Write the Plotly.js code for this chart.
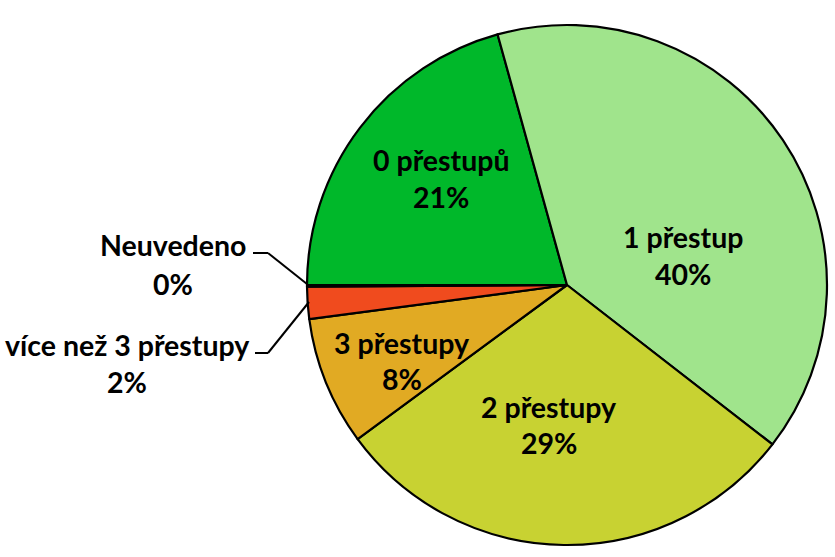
<!DOCTYPE html>
<html>
<head>
<meta charset="utf-8">
<script src="https://cdn.plot.ly/plotly-3.0.1.min.js"></script>
<style>html,body{margin:0;padding:0;background:#fff;}#chart{width:835px;height:557px;}</style>
</head>
<body>
<div id="chart"></div>
<script>
// Data (clockwise, starting at 9 o'clock)
const categories = ["0 přestupů", "1 přestup", "2 přestupy", "3 přestupy", "více než 3 přestupy", "Neuvedeno"];
const values = [20.7, 39.8, 29.4, 8.0, 2.0, 0.1];
const colors = ["#00B82A", "#A0E48C", "#C8D232", "#E1AA23", "#F04B1E", "#4F81BD"];

// Label placement (pixel centers of name line / percent line)
const labelPos = [
  {x: 441, y1: 160, y2: 197},
  {x: 683, y1: 237, y2: 274},
  {x: 549, y1: 407, y2: 443},
  {x: 402, y1: 343, y2: 379},
  {x: 127, y1: 345, y2: 382},
  {x: 173, y1: 245, y2: 284}
];

const W = 835, H = 557;
const total = values.reduce((a, b) => a + b, 0);
const pct = values.map(v => Math.round(v / total * 100) + '%');
const font = {family: 'Lato, "Open Sans", sans-serif', size: 28.5, color: '#000', weight: 'bold'};

const annotations = [];
categories.forEach((c, i) => {
  const p = labelPos[i];
  annotations.push({xref: 'paper', yref: 'paper', x: p.x / W, y: 1 - p.y1 / H, xanchor: 'center', yanchor: 'middle', text: c, showarrow: false, font: font});
  annotations.push({xref: 'paper', yref: 'paper', x: p.x / W, y: 1 - p.y2 / H, xanchor: 'center', yanchor: 'middle', text: pct[i], showarrow: false, font: font});
});

function seg(x0, y0, x1, y1) {
  return {type: 'line', xref: 'paper', yref: 'paper', x0: x0 / W, y0: 1 - y0 / H, x1: x1 / W, y1: 1 - y1 / H, line: {color: '#000', width: 2}};
}
const shapes = [
  seg(253, 253, 268, 253), seg(268, 253, 307, 284),
  seg(255, 353, 268, 353), seg(268, 353, 309, 302)
];

const trace = {
  type: 'pie',
  labels: categories,
  values: values,
  sort: false,
  direction: 'clockwise',
  rotation: -90,
  textinfo: 'none',
  hoverinfo: 'label+percent',
  marker: {colors: colors, line: {color: '#000', width: 2.2}},
  domain: {x: [307 / W, 827 / W], y: [12 / H, 532 / H]},
  showlegend: false
};

const layout = {
  width: W, height: H,
  margin: {l: 0, r: 0, t: 0, b: 0},
  paper_bgcolor: '#fff',
  showlegend: false,
  annotations: annotations,
  shapes: shapes
};

Plotly.newPlot('chart', [trace], layout, {displayModeBar: false, staticPlot: true});
</script>
</body>
</html>
